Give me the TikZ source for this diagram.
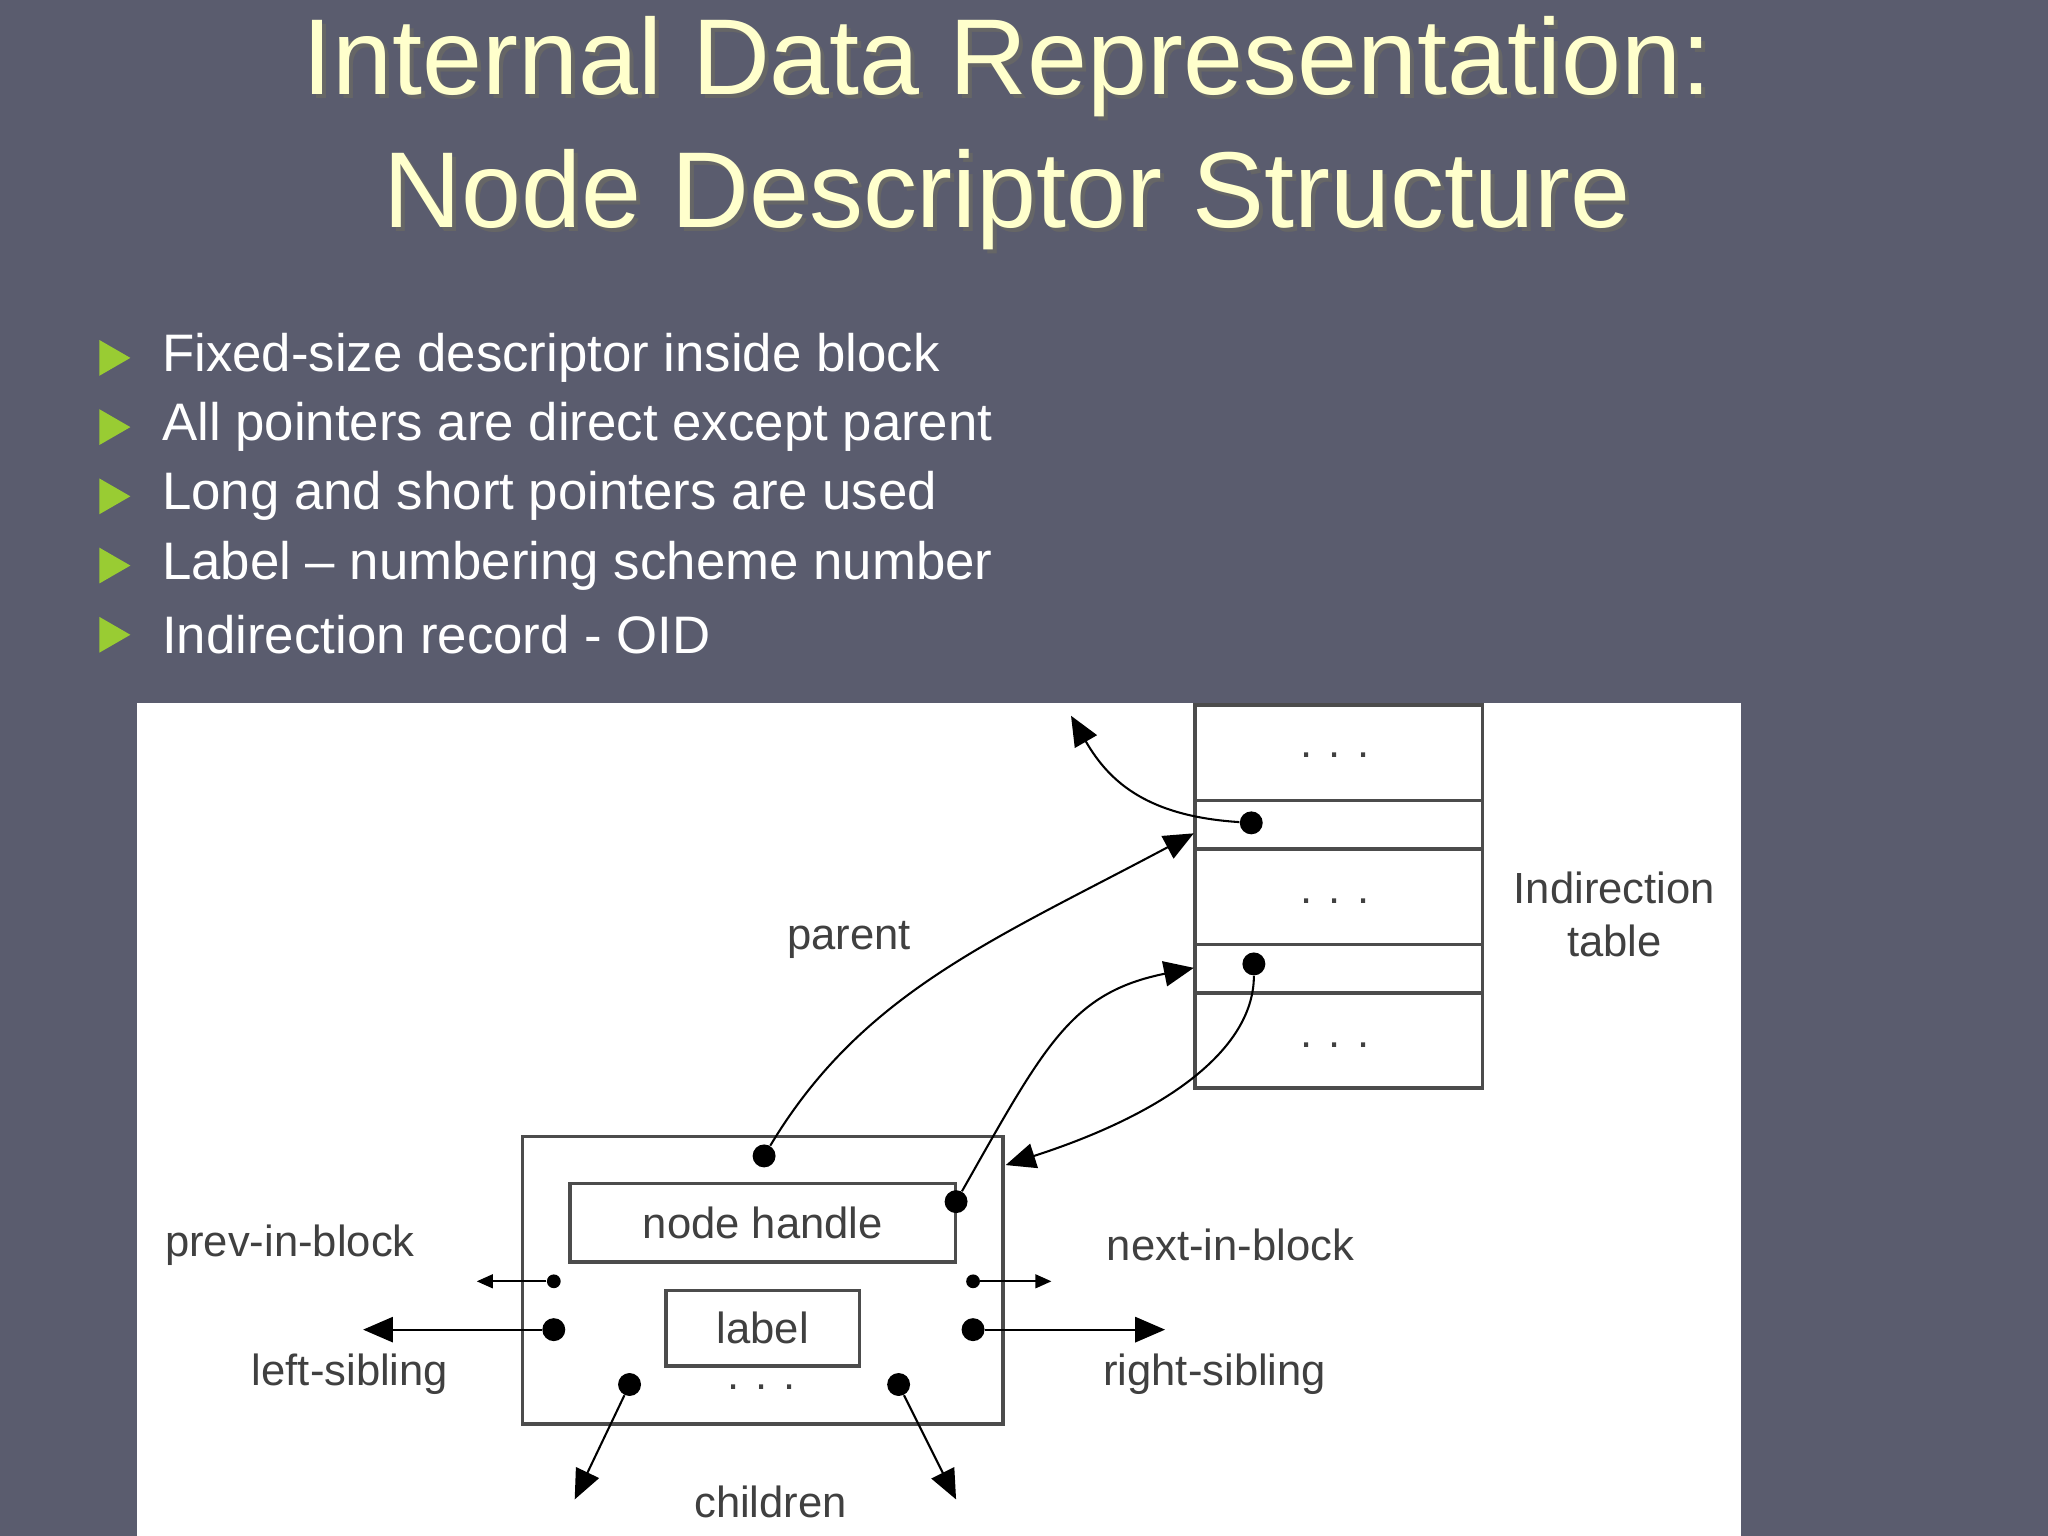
\documentclass[tikz,border=0pt]{standalone}
\usepackage{fontspec}
\setmainfont{Liberation Sans}
\usetikzlibrary{arrows}
\usetikzlibrary{arrows.meta}
\usetikzlibrary{shapes}
\definecolor{slate}{HTML}{5A5C6E}
\definecolor{titlecol}{HTML}{FFFFCC}
\definecolor{bulletcol}{HTML}{99CC33}
\begin{document}
\begin{tikzpicture}[x = 0.02cm, y = -0.02cm]
	\tikzstyle{titleStyle} = [text = titlecol, font = \fontsize{47}{58}\selectfont, align = center]
	\tikzstyle{bulletStyle} = [text = white, font = \fontsize{23}{28}\selectfont, anchor = west]
	\tikzstyle{markStyle} = [fill = bulletcol, regular polygon, regular polygon sides = 3, shape border rotate = -90, inner sep = 0pt, minimum size = 18pt]
	\tikzstyle{labelStyle} = [text = black!75, font = \fontsize{19}{23}\selectfont]
	\tikzstyle{boxStyle} = [draw = black!70, line width = 1.6pt]
	\tikzstyle{dotStyle} = [circle, fill = black, inner sep = 0pt, minimum size = 10pt]
	\tikzstyle{ptrStyle} = [draw, line width = 0.9pt, -{Triangle[length = 13pt, width = 11pt]}]
	\tikzstyle{shortStyle} = [draw, line width = 0.9pt, -{Triangle[length = 7pt, width = 6pt]}]
	% background and panel
	\fill[slate] (0,0) rectangle (1568,1176);
	\useasboundingbox (0,0) rectangle (1568,1176);
	\fill[white] (105,538) rectangle (1333,1176);
	% title
	\node[titleStyle, text = black!60] (shadow) at (774,105) {Internal Data Representation:\\Node Descriptor Structure};
	\node[titleStyle] (title) at (771,102) {Internal Data Representation:\\Node Descriptor Structure};
	% bullets
	\foreach \y/\t [count = \i] in {274/Fixed-size descriptor inside block,
		327/All pointers are direct except parent,
		380/Long and short pointers are used,
		433/Label -- numbering scheme number,
		486/Indirection record - OID} {
		\node[markStyle] (m\i) at (84,\y) {};
		\node[bulletStyle] (b\i) at (118,\y) {\t};
	}
	% indirection table
	\draw[boxStyle] (915,540) rectangle (1135,833);
	\foreach \y in {613,650,723,760} \draw[boxStyle] (915,\y) -- (1135,\y);
	\foreach \y [count = \i] in {578,690,800} \node[labelStyle] (d\i) at (1022,\y) {. . .};
	\node[labelStyle, align = center] (itab) at (1236,700) {Indirection\\table};
	% node descriptor
	\draw[boxStyle] (400,870) rectangle (768,1090);
	\node[boxStyle, labelStyle, inner sep = 0pt, minimum width = 5.9cm, minimum height = 1.2cm] (handle) at (584,936) {node handle};
	\node[boxStyle, labelStyle, inner sep = 0pt, minimum width = 2.96cm, minimum height = 1.16cm] (lab) at (584,1017) {label};
	\node[labelStyle] (dd) at (583,1062) {. . .};
	% dots
	\node[dotStyle] (pdot) at (585,885) {};
	\node[dotStyle] (hdot) at (732,920) {};
	\node[dotStyle] (t1) at (958,630) {};
	\node[dotStyle] (t2) at (960,738) {};
	\node[dotStyle, minimum size = 6pt] (pv) at (424,981) {};
	\node[dotStyle] (ls) at (424,1018) {};
	\node[dotStyle, minimum size = 6pt] (nx) at (745,981) {};
	\node[dotStyle] (rs) at (745,1018) {};
	\node[dotStyle] (c1) at (482,1060) {};
	\node[dotStyle] (c2) at (688,1060) {};
	% arrow ends
	\coordinate (tp) at (914,638);
	\coordinate (th) at (914,741);
	\coordinate (nb) at (770,892);
	\coordinate (up) at (820,548);
	\coordinate (pe) at (365,981);
	\coordinate (le) at (278,1018);
	\coordinate (ne) at (805,981);
	\coordinate (re) at (892,1018);
	\coordinate (ce1) at (440,1148);
	\coordinate (ce2) at (732,1148);
	% pointers
	\draw[ptrStyle] (pdot) .. controls (660,760) and (760,720) .. (tp);
	\draw[ptrStyle] (hdot) .. controls (800,800) and (820,760) .. (th);
	\draw[ptrStyle] (t2) .. controls (960,800) and (900,850) .. (nb);
	\draw[ptrStyle] (t1) .. controls (880,625) and (850,600) .. (up);
	\draw[shortStyle] (pv) -- (pe);
	\draw[ptrStyle] (ls) -- (le);
	\draw[shortStyle] (nx) -- (ne);
	\draw[ptrStyle] (rs) -- (re);
	\draw[ptrStyle] (c1) -- (ce1);
	\draw[ptrStyle] (c2) -- (ce2);
	% labels
	\node[labelStyle] (lparent) at (650,720) {parent};
	\node[labelStyle] (lprev) at (222,953) {prev-in-block};
	\node[labelStyle] (lleft) at (268,1052) {left-sibling};
	\node[labelStyle] (lnext) at (942,953) {next-in-block};
	\node[labelStyle] (lright) at (930,1052) {right-sibling};
	\node[labelStyle] (lchild) at (590,1150) {children};
\end{tikzpicture}
\end{document}
